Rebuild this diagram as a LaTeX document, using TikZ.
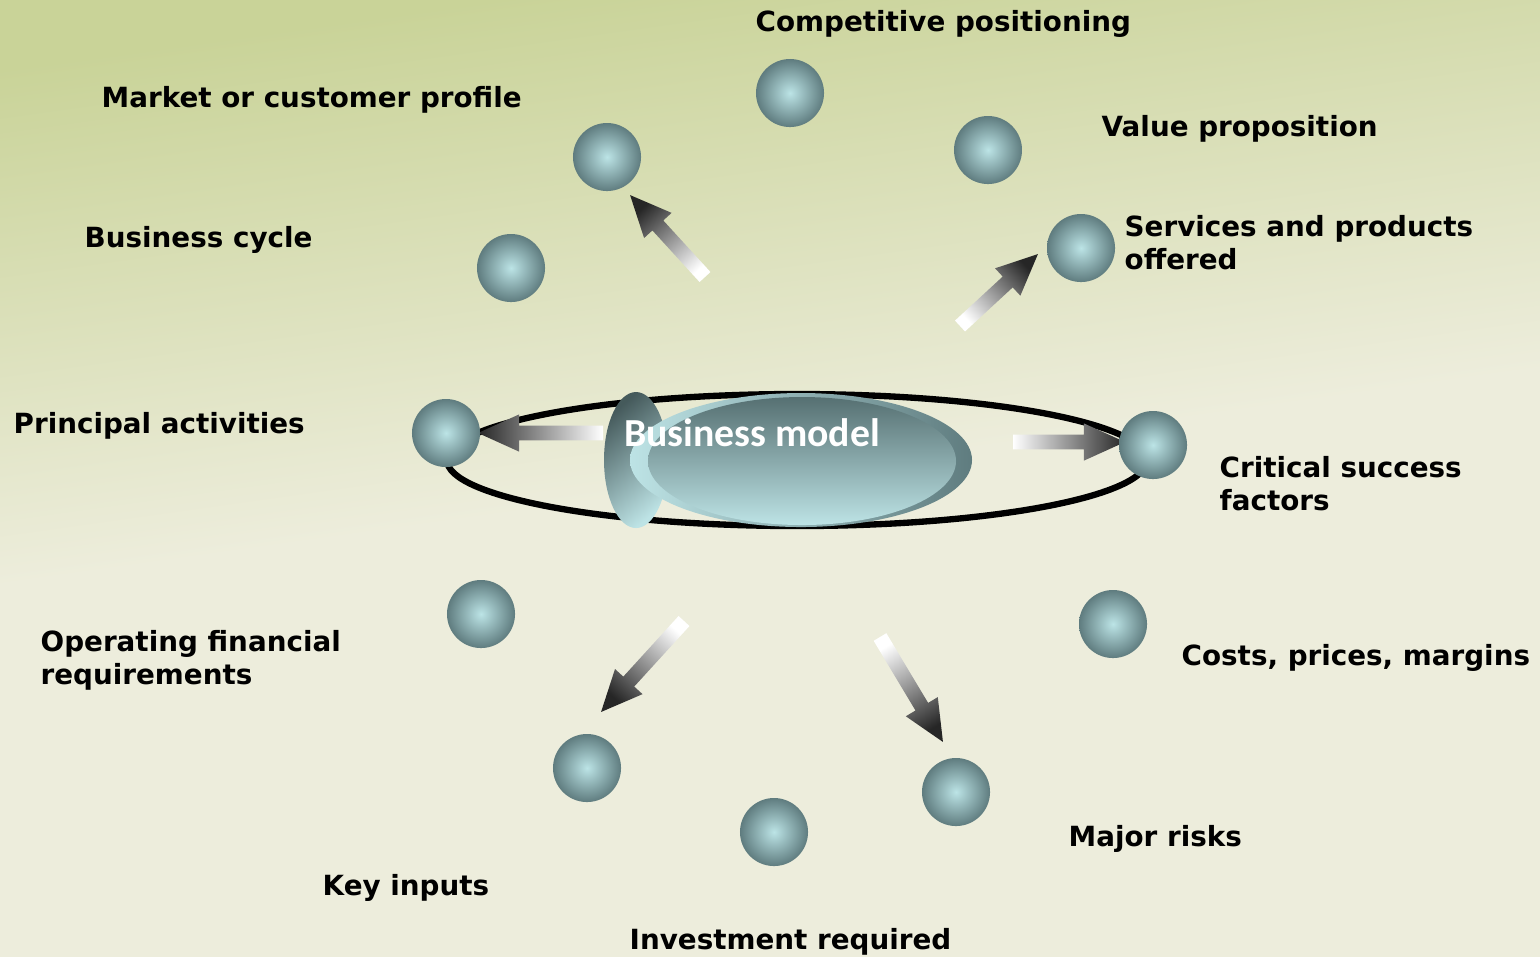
\documentclass[tikz,border=0pt]{standalone}
\usepackage{fontspec}
\setmainfont{DejaVu Sans}
\newfontfamily\bmfont{Carlito}
\usetikzlibrary{calc}

\definecolor{bgtop}{HTML}{C9D398}
\definecolor{bgbot}{HTML}{EDEDDC}
\definecolor{sphlight}{HTML}{BCE4E6}
\definecolor{sphdark}{HTML}{5F7C7F}
\definecolor{bmdark}{HTML}{567072}
\definecolor{bmlight}{HTML}{BDE3E5}

% background: olive at the top, cream from the middle down
\pgfdeclareverticalshading{bgshade}{100bp}{color(0bp)=(bgbot); color(25bp)=(bgbot); color(50bp)=(bgbot); color(75bp)=(bgtop); color(100bp)=(bgtop)}

\tikzset{
  sphere/.style={circle, minimum size=0.68cm, inner sep=0pt, inner color=sphlight, outer color=sphdark},
  lbl/.style={anchor=west, inner sep=0pt, yshift=-0.85pt, align=left, font=\fontsize{7.9}{9.4}\selectfont\bfseries},
}

% fat arrow with a white-to-dark fill, from #1 to #2
\def\fashaft{2.1pt}
\def\fahalf{5.3pt}
\def\falen{11.7pt}
\newcommand{\fatarrow}[2]{%
  \path let \p1=($(#2)-(#1)$) in \pgfextra{%
    \pgfmathparse{atan2(\y1,\x1)}\xdef\farang{\pgfmathresult}%
    \pgfmathparse{\farang+90}\xdef\farshade{\pgfmathresult}%
    \pgfmathparse{veclen(\x1,\y1)}\xdef\farlen{\pgfmathresult}};
  \shade[shift={(#1)}, rotate=\farang, left color=white, right color=black!85, shading angle=\farshade]
    (0pt,-\fashaft) -- ({\farlen pt-\falen},-\fashaft) -- ({\farlen pt-\falen},-\fahalf)
    -- (\farlen pt,0pt) -- ({\farlen pt-\falen},\fahalf) -- ({\farlen pt-\falen},\fashaft)
    -- (0pt,\fashaft) -- cycle;
}

\begin{document}
\begin{tikzpicture}[x=0.01cm, y=-0.01cm]
\useasboundingbox (0,0) rectangle (1540,956);
\shade[shading=bgshade, shading angle=8] (0,0) rectangle (1540,956);

% \draw[help lines, step=100] (0,0) grid (1540,956);

% the ring and the business model in the middle
\draw[line width=1.8pt] (797,460) ellipse [x radius=350, y radius=66];
\shade[top color=bmdark!80!black, bottom color=bmlight, shading angle=40] (636,460) ellipse [x radius=32, y radius=68];
\shade[left color=bmlight, right color=sphdark] (801,460) ellipse [x radius=171, y radius=67];
\shade[top color=bmdark, bottom color=bmlight] (802,461) ellipse [x radius=154, y radius=64];
\node[inner sep=0pt, text=white, font=\fontsize{11.3}{13}\selectfont\bmfont\bfseries] (bm) at (752,433) {Business model};

% arrows out of the middle
\coordinate (pat) at (603,433);  \coordinate (pah) at (478,433);
\coordinate (csft) at (1013,442); \coordinate (csfh) at (1125,442);
\coordinate (mcpt) at (705,277); \coordinate (mcph) at (630,195);
\coordinate (spot) at (960,326); \coordinate (spoh) at (1038,254);
\coordinate (kit) at (684,621);  \coordinate (kih) at (601,712);
\coordinate (mrt) at (880,637);  \coordinate (mrh) at (943,742);
\foreach \from/\to in {pat/pah, csft/csfh, mcpt/mcph, spot/spoh, kit/kih, mrt/mrh}
    \fatarrow{\from}{\to};

% the twelve spheres
\foreach \nm/\px/\py in {cp/790/93, mcp/607/157, vp/988/150, bc/511/268, spo/1081/248, pa/446/433,
                         csf/1153/445, ofr/481/614, cpm/1113/624, ki/587/768, ir/774/832, mr/956/792}
    \node[sphere] (\nm) at (\px,\py) {};

% labels
\node[lbl] (cpl) at (755,21) {Competitive positioning};
\node[lbl] (mcpl) at (101,97) {Market or customer profile};
\node[lbl] (vpl) at (1101,126) {Value proposition};
\node[lbl] (bcl) at (84,237) {Business cycle};
\node[lbl] (spol) at (1124,240) {Services and products\\offered};
\node[lbl] (pal) at (13,423) {Principal activities};
\node[lbl] (csfl) at (1219,481) {Critical success\\factors};
\node[lbl] (ofrl) at (40,657) {Operating financial\\requirements};
\node[lbl] (cpml) at (1181,655) {Costs, prices, margins};
\node[lbl] (mrl) at (1068,836) {Major risks};
\node[lbl] (kil) at (322,885) {Key inputs};
\node[lbl] (irl) at (629,939) {Investment required};
\end{tikzpicture}
\end{document}
